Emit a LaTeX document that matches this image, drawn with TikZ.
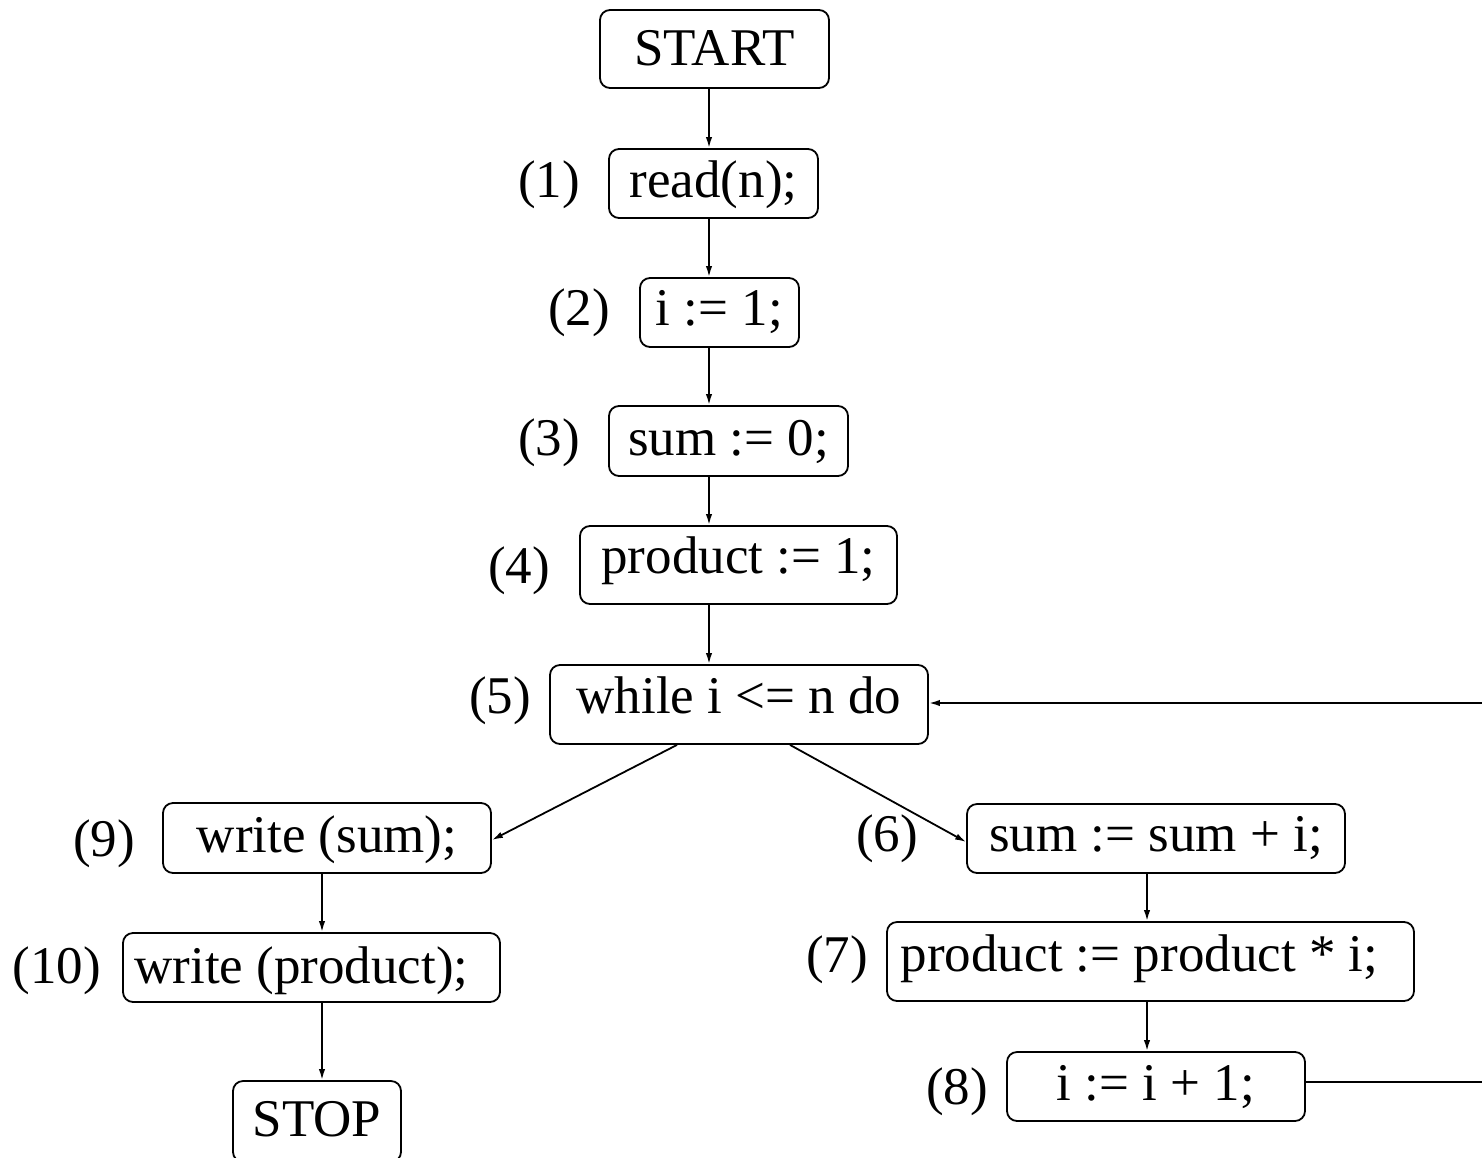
\documentclass[tikz,border=0pt]{standalone}
\usepackage{fontspec}
\setmainfont{Liberation Serif}
\usetikzlibrary{arrows.meta,calc}
\begin{document}
\begin{tikzpicture}[x=0.5pt,y=-0.5pt,
  box/.style={draw,rounded corners=5pt,line width=0.9pt,inner sep=0pt,anchor=base,
    font=\fontsize{26.5}{30}\selectfont},
  lab/.style={inner sep=0pt,anchor=base,font=\fontsize{26.5}{30}\selectfont},
  arr/.style={line width=0.9pt,-{Latex[length=5.5pt,width=3.2pt]}},
  hd/.style 2 args={text height=#1pt,text depth=#2pt}]
\useasboundingbox (0,0) rectangle (1482,1157);
\clip (0,0) rectangle (1482,1157);
% boxes (positioned at text baseline)
\node[box,minimum width=114.5pt,hd={27.5}{11.5}] (start) at (714.5,65) {START};
\node[box,minimum width=104.5pt,hd={24}{10.5}] (n1) at (713.5,197) {read(n);};
\node[box,minimum width=79.5pt,hd={23.5}{11}] (n2) at (719.5,325) {i := 1;};
\node[box,minimum width=119.5pt,hd={24.5}{10.5}] (n3) at (728.5,455) {sum := 0;};
\node[box,minimum width=158.5pt,hd={23.5}{15.5}] (n4) at (738.5,573) {product := 1;};
\node[box,minimum width=189pt,hd={24}{15.5}] (n5) at (739,713) {while i <= n do};
\node[box,minimum width=164pt,hd={24.5}{10.5}] (n9) at (327,852) {write (sum);};
\node[box,minimum width=188.5pt,hd={25}{9.5}] (n10) at (311.5,983) {\hspace*{-10pt}write (product);};
\node[box,minimum width=84pt,hd={27.5}{13}] (stop) at (317,1136) {STOP};
\node[box,minimum width=189pt,hd={23.5}{11}] (n6) at (1156,851) {sum := sum + i;};
\node[box,minimum width=263.5pt,hd={24.5}{15}] (n7) at (1150.5,971) {\hspace*{-11pt}product := product * i;};
\node[box,minimum width=149pt,hd={24}{10.5}] (n8) at (1156,1100) {i := i + 1;};
% labels
\node[lab] (l1) at (549,197) {(1)};
\node[lab] (l2) at (579,325) {(2)};
\node[lab] (l3) at (549,455) {(3)};
\node[lab] (l4) at (519,583) {(4)};
\node[lab] (l5) at (500,713) {(5)};
\node[lab] (l9) at (104,856) {(9)};
\node[lab] (l10) at (57,983) {(10)};
\node[lab] (l6) at (887,851) {(6)};
\node[lab] (l7) at (837,972) {(7)};
\node[lab] (l8) at (957,1104) {(8)};
% connector columns
\coordinate (cx) at (709,0);
\coordinate (cl) at (322,0);
\coordinate (cr) at (1147,0);
\coordinate (lp) at (1520,703);
% connectors
\draw[arr] (start.south -| cx) -- (n1.north -| cx);
\draw[arr] (n1.south -| cx) -- (n2.north -| cx);
\draw[arr] (n2.south -| cx) -- (n3.north -| cx);
\draw[arr] (n3.south -| cx) -- (n4.north -| cx);
\draw[arr] (n4.south -| cx) -- (n5.north -| cx);
\draw[arr] ($(n5.south)+(-62,0)$) -- ($(n9.east)+(0,2)$);
\draw[arr] ($(n5.south)+(51,0)$) -- ($(n6.west)+(0,3.5)$);
\draw[arr] (n9.south -| cl) -- (n10.north -| cl);
\draw[arr] (n10.south -| cl) -- (stop.north -| cl);
\draw[arr] (n6.south -| cr) -- (n7.north -| cr);
\draw[arr] (n7.south -| cr) -- (n8.north -| cr);
\coordinate (o8) at ($(n8.east)+(0,-4.5)$);
\draw[arr] (o8) -- (o8 -| lp) -- (lp) -- (n5.east |- lp);
\end{tikzpicture}
\end{document}
